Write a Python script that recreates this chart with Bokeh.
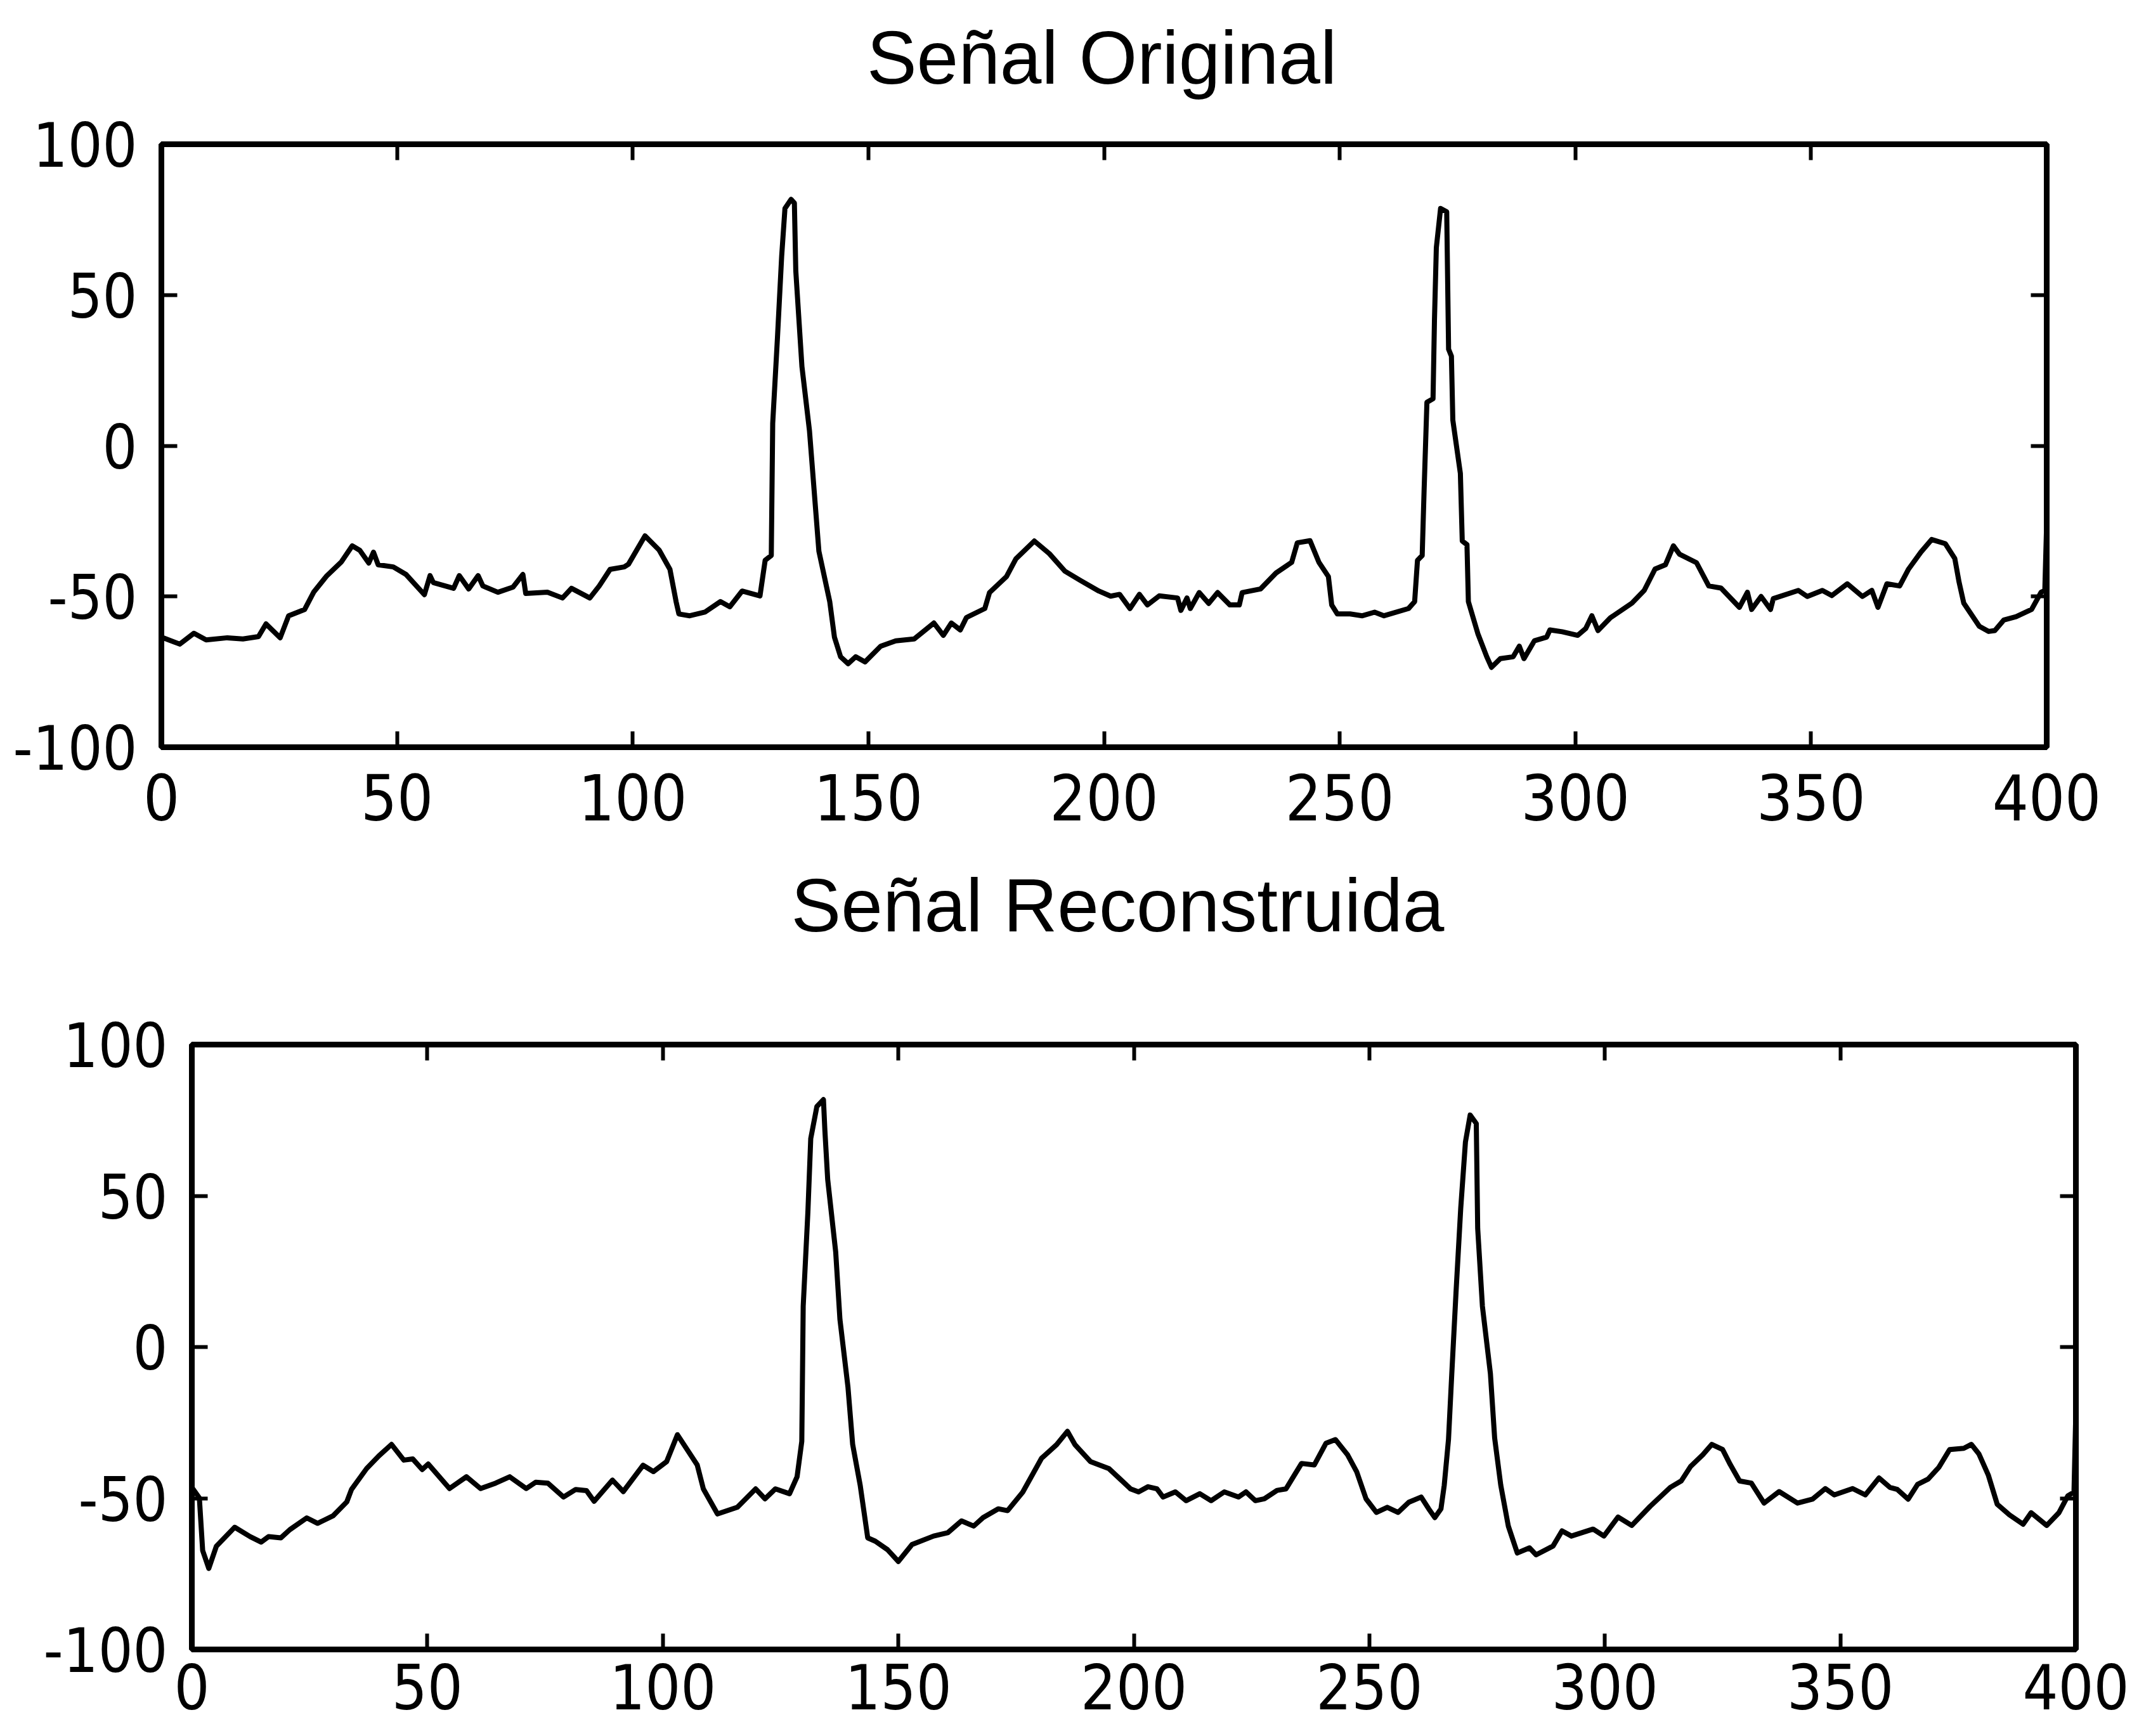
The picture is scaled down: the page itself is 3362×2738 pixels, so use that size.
from bokeh.plotting import figure
from bokeh.models import FixedTicker, LinearAxis, Range1d, Spacer, Label
from bokeh.layouts import column, row
from bokeh.embed import file_html
from bokeh.resources import INLINE

# ---------------- data ----------------
titles = ["Señal Original", "Señal Reconstruida"]
x_ticks = [0, 50, 100, 150, 200, 250, 300, 350, 400]
y_ticks = [-100, -50, 0, 50, 100]
y_tick_labels = {-100: "-100", -50: "-50", 0: "0", 50: "50", 100: "100"}

orig_x = [0, 0.4, 3.9, 6.9, 9.5, 14, 17.3, 20.6, 22.2, 25.2, 27, 30.4, 32.3, 35, 38.2, 40.5, 42.1, 44, 45, 46,
          49.2, 51.9, 55.8, 57, 57.7, 62, 63.2, 65.2, 67.2, 68.2, 71.4, 74.6, 76.7, 77.3, 81.9, 85.1, 87, 90.9, 92.9, 95.2,
          98.2, 99.1, 102.6, 105.6, 107.9, 109.2, 109.8, 112.1, 115.3, 118.6, 120.6, 123.2, 127, 128.1, 129.4, 129.7, 130.7, 131.6, 132.3, 133.6,
          134.3, 134.6, 135.9, 137.5, 138.5, 139.5, 141.8, 142.8, 144.1, 145.7, 147.3, 149.3, 152.6, 155.8, 159.7, 163.9, 165.9, 167.6, 169.5, 170.8,
          174.7, 175.7, 179.3, 181.3, 185.2, 188.4, 191.7, 194.9, 198.9, 201.4, 203.3, 205.5, 207.5, 209.2, 211.7, 215.6, 216.3, 217.6, 218.3, 220.2,
          222.2, 224.1, 226.7, 228.7, 229.3, 233.2, 236.5, 239.8, 241, 243.7, 245.6, 247.6, 248.3, 249.5, 252.2, 254.8, 257.4, 259.4, 264.6, 265.9,
          266.5, 267.5, 267.9, 268.5, 269.8, 270.1, 270.5, 271.4, 272.7, 273.1, 273.7, 274, 275.6, 276, 277, 277.3, 279.3, 281.2, 282.2, 284.1,
          286.8, 288.1, 289.1, 291.3, 293.9, 294.6, 297.2, 300.5, 302.2, 303.5, 304.8, 307.4, 312, 314.6, 316.9, 319.1, 320.8, 322.1, 325.7, 328.3,
          330.9, 334.8, 336.5, 337.4, 339.4, 341.4, 342, 347.3, 349.2, 352.4, 354.4, 357.7, 360.9, 362.9, 364.2, 366.1, 368.8, 370.7, 373.3, 375.6,
          378.5, 380.5, 381.4, 382.4, 385.7, 387.7, 389, 390.9, 393.5, 396.8, 398.8, 399.6, 400]
orig_y = [-63.5, -63.7, -65.8, -62.2, -64.4, -63.7, -64.1, -63.3, -59.1, -63.7, -56.4, -54.3, -48.6, -43.3, -38.5, -33.2, -34.7, -38.9, -35.3, -39.5,
          -40.2, -42.7, -49.4, -43.1, -45.4, -47.3, -43.1, -47.5, -43.1, -46.5, -48.6, -46.9, -42.7, -49.0, -48.6, -50.5, -47.3, -50.5, -46.5, -41.0,
          -40.2, -39.3, -29.9, -34.6, -41.0, -51.7, -55.8, -56.4, -55.2, -51.7, -53.4, -48.2, -49.8, -38.0, -36.4, 7.4, 35.6, 62.8, 78.7, 81.7,
          80.5, 58.0, 26.3, 5.0, -15.0, -35.0, -51.7, -63.5, -70.0, -72.3, -70.0, -71.7, -66.5, -64.7, -64.1, -58.8, -62.9, -58.8, -61.1, -57.0,
          -54.0, -48.7, -43.4, -37.5, -31.6, -35.8, -41.6, -44.6, -48.2, -49.9, -49.3, -54.0, -49.3, -52.8, -49.8, -50.5, -54.6, -50.5, -54.0, -48.7,
          -52.3, -48.7, -52.8, -52.8, -48.7, -47.5, -42.2, -38.7, -32.2, -31.5, -38.7, -43.4, -52.8, -55.8, -55.8, -56.4, -55.2, -56.4, -54.0, -51.7,
          -38.0, -36.4, -15.0, 14.4, 15.6, 41.5, 65.7, 78.7, 77.6, 32.0, 29.7, 8.5, -9.2, -31.6, -32.8, -51.7, -62.3, -70.0, -73.5, -70.6,
          -70.0, -66.5, -70.6, -64.7, -63.5, -61.1, -61.7, -62.9, -60.6, -56.4, -61.3, -57.1, -52.2, -48.0, -40.9, -39.5, -33.2, -36.0, -38.8, -46.5,
          -47.2, -53.6, -48.6, -54.3, -50.0, -54.3, -50.7, -48.0, -50.0, -48.0, -49.7, -45.8, -50.0, -48.0, -53.6, -45.8, -46.5, -40.9, -35.3, -31.1,
          -32.5, -37.4, -45.2, -52.2, -59.9, -61.6, -61.3, -57.8, -56.7, -54.3, -48.6, -48.0, -25.0]

rec_x = [0, 1.6, 2.3, 3.6, 5.2, 9.1, 12.4, 14.7, 16.3, 18.9, 20.8, 24.4, 26.7, 30, 32.9, 33.9, 37.1, 39.7, 42.4, 45,
         46.9, 48.9, 50.2, 54.7, 58.3, 61.3, 64.5, 67.5, 71, 73, 75.6, 78.9, 81.5, 83.8, 85.4, 89.3, 91.6, 95.8, 98, 100.8,
         103.1, 107.3, 108.6, 111.6, 115.8, 119.7, 121.7, 123.9, 126.9, 128.5, 129.5, 129.8, 130.8, 131.4, 132.7, 134.1, 134.4, 135, 136.7, 137.6,
         139.3, 140.3, 141.9, 143.5, 145.1, 147.7, 150, 152.9, 157.5, 160.5, 163.4, 166, 168, 171.2, 173.2, 176.4, 180.4, 183.6, 185.9, 187.5,
         190.8, 194.7, 199.3, 201, 203, 204.9, 206.2, 208.8, 211.1, 214, 216.4, 219.2, 222.2, 223.8, 225.8, 227.7, 230.4, 232.3, 235.6, 238.3,
         240.8, 242.8, 245.4, 247.3, 249.3, 251.5, 253.8, 256.1, 258.4, 261, 262.6, 263.9, 265.2, 265.9, 266.8, 267.5, 268.4, 269.4, 270.4, 271.4,
         272.7, 273, 274, 275.7, 276.6, 277.9, 279.5, 281.4, 284, 285.4, 289, 290.9, 292.9, 297.5, 299.8, 302.8, 305.7, 309.6, 313.9, 316.2,
         318.2, 320.8, 322.7, 325, 326.6, 328.6, 331.1, 333.8, 337, 340.9, 344.1, 346.8, 348.7, 352.6, 355.3, 358.2, 360.5, 362.1, 364.4, 366.4,
         368.6, 370.9, 373.2, 376.2, 377.8, 379.4, 381.4, 383.3, 385.9, 388.8, 390.5, 393.8, 396.4, 398.3, 399.6, 400]
rec_y = [-46.4, -49.9, -67.3, -73.2, -65.9, -59.6, -62.7, -64.5, -62.7, -63.1, -60.4, -56.5, -58.3, -55.8, -51.2, -47.1, -40.2, -36.0, -32.2, -37.4,
         -37.0, -40.5, -38.7, -46.8, -42.9, -46.8, -45.0, -42.9, -46.8, -44.7, -45.0, -49.6, -47.1, -47.5, -51.0, -44.0, -47.8, -39.1, -41.2, -37.9,
         -29.0, -39.0, -46.9, -55.2, -53.0, -46.9, -50.2, -46.9, -48.5, -42.9, -31.2, 13.5, 44.8, 68.9, 79.5, 81.8, 71.7, 55.4, 31.4, 9.1,
         -13.2, -32.2, -45.7, -63.1, -64.2, -67.0, -70.9, -65.3, -62.5, -61.4, -57.5, -59.2, -56.4, -53.5, -54.1, -48.0, -36.8, -32.3, -27.9, -32.3,
         -37.9, -40.2, -46.9, -47.9, -46.2, -46.9, -49.6, -47.9, -50.8, -48.5, -50.8, -47.9, -49.6, -47.9, -50.8, -50.2, -47.4, -46.9, -38.5, -39.0,
         -31.8, -30.6, -35.7, -41.2, -50.2, -54.7, -53.0, -54.7, -51.3, -49.6, -53.5, -56.4, -53.5, -45.7, -30.6, -8.8, 18.1, 45.9, 67.8, 76.7,
         73.9, 39.2, 13.5, -8.8, -30.1, -45.7, -59.2, -68.1, -66.4, -68.7, -65.8, -60.8, -62.5, -60.2, -62.5, -56.2, -59.0, -52.7, -46.4, -44.3,
         -39.5, -35.6, -32.2, -33.9, -38.8, -44.3, -45.0, -51.6, -47.8, -51.6, -50.3, -46.8, -48.9, -46.8, -48.9, -43.3, -46.4, -47.1, -50.3, -45.4,
         -43.7, -39.8, -33.9, -33.5, -32.2, -35.3, -42.3, -52.0, -55.5, -58.6, -54.8, -59.0, -54.8, -49.2, -48.0, -20.7]

# ---------------- styling ----------------
TICK_FONT = "Liberation Sans Narrow, DejaVu Sans Condensed, sans-serif"
TITLE_FONT = "Liberation Sans, Arial, sans-serif"
BOX_W = 9
W = 3362


def style_labeled_axis(ax, ticks, standoff, size, overrides=None):
    ax.ticker = FixedTicker(ticks=ticks)
    ax.major_tick_in = 25
    ax.major_tick_out = 0
    ax.minor_tick_in = 0
    ax.minor_tick_out = 0
    ax.major_tick_line_width = 6
    ax.major_tick_line_color = "black"
    ax.axis_line_width = BOX_W
    ax.axis_line_color = "black"
    ax.major_label_text_font = TICK_FONT
    ax.major_label_text_font_size = size
    ax.major_label_text_color = "black"
    ax.major_label_standoff = standoff
    if overrides:
        ax.major_label_overrides = overrides


def style_mirror_axis(ax, ticks):
    # tick marks only (drawn as minor ticks so no labels exist)
    ax.ticker = FixedTicker(ticks=[], minor_ticks=ticks)
    ax.major_tick_in = 0
    ax.major_tick_out = 0
    ax.minor_tick_in = 25
    ax.minor_tick_out = 0
    ax.minor_tick_line_width = 6
    ax.minor_tick_line_color = "black"
    ax.axis_line_width = BOX_W
    ax.axis_line_color = "black"
    ax.major_label_standoff = 0


def make_title(text, height, cx, baseline_from_top):
    # a bare strip whose frame is the whole strip, so data units equal pixels
    t = figure(width=W, height=height, x_range=Range1d(0, W), y_range=Range1d(0, height),
               output_backend="svg", toolbar_location=None, x_axis_type=None, y_axis_type=None,
               min_border=0, min_border_left=0, min_border_right=0, min_border_top=0, min_border_bottom=0)
    t.outline_line_color = None
    t.background_fill_color = "white"
    t.border_fill_color = "white"
    t.add_layout(Label(x=cx, y=height - baseline_from_top, text=text,
                       text_align="center", text_baseline="alphabetic",
                       text_font=TITLE_FONT, text_font_size="118px", text_color="black"))
    return t


def make_plot(xs, ys, width, height, left, right, top, bottom, x_standoff, x_size):
    p = figure(width=width, height=height, x_range=Range1d(0, 400), y_range=Range1d(-100, 100),
               output_backend="svg", toolbar_location=None,
               min_border_left=left, min_border_right=right,
               min_border_top=top, min_border_bottom=bottom)
    p.grid.visible = False
    p.background_fill_color = "white"
    p.border_fill_color = "white"
    p.outline_line_color = "black"
    p.outline_line_width = BOX_W

    style_labeled_axis(p.xaxis[0], x_ticks, standoff=x_standoff, size=x_size)
    style_labeled_axis(p.yaxis[0], y_ticks, standoff=38, size="96px", overrides=y_tick_labels)
    top_ax = LinearAxis()
    right_ax = LinearAxis()
    style_mirror_axis(top_ax, x_ticks)
    style_mirror_axis(right_ax, y_ticks)
    p.add_layout(top_ax, "above")
    p.add_layout(right_ax, "right")

    p.line(xs, ys, line_color="black", line_width=8, line_join="round")
    return p


SHIFT = 48  # the lower panel sits a little further right in the reference

t1 = make_title(titles[0], height=167, cx=1737, baseline_from_top=90)
p1 = make_plot(orig_x, orig_y, width=W, height=1173, left=254, right=135, top=60, bottom=162,
               x_standoff=42, x_size="100px")
t2 = make_title(titles[1], height=247, cx=1762, baseline_from_top=87)
p2 = make_plot(rec_x, rec_y, width=W - SHIFT, height=1151, left=254, right=89, top=60, bottom=137,
               x_standoff=22, x_size="98px")

layout = column(t1, row(p1), t2, row(Spacer(width=SHIFT, height=1151), p2), spacing=0)
open("out.html", "w").write(file_html(layout, INLINE))
